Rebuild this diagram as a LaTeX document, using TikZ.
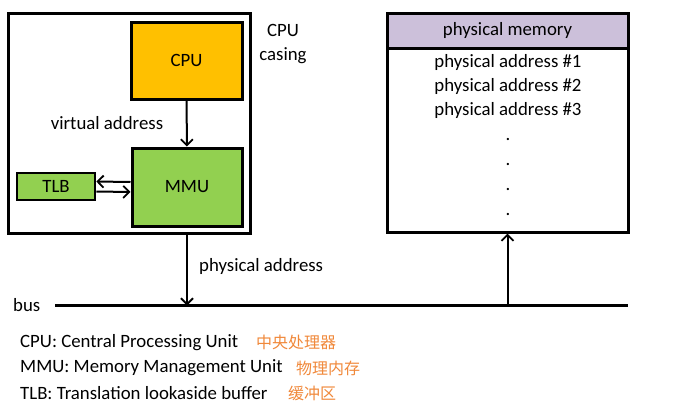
\documentclass[tikz,border=0pt]{standalone}
\usepackage{fontspec}
\setmainfont{Carlito}
\newfontfamily\cjk{Noto Sans CJK SC}
\usetikzlibrary{arrows.meta}
\definecolor{cpuorange}{HTML}{FFC000}
\definecolor{mmugreen}{HTML}{92D050}
\definecolor{memlilac}{HTML}{CCC0DA}
\definecolor{zhorange}{HTML}{F0883A}
\tikzset{
	unitbox/.style={draw, line width=3pt, minimum width=#1, inner sep=0pt},
	txt/.style={font=\fontsize{18.8}{24}\selectfont, inner sep=0pt},
	zh/.style={font=\fontsize{16}{22}\selectfont\cjk, text=zhorange, inner sep=0pt, anchor=west},
	link/.style={line width=2pt, -{Straight Barb[length=6pt,width=12pt,line width=1.8pt]}}
}

\begin{document}
\begin{tikzpicture}[x=1pt, y=-1pt]
			%%%%% START %%%%%
			\useasboundingbox (0, 0) rectangle (689, 416);
			
			% cpu casing
			\node[unitbox=242pt, minimum height=220pt] (casing) at (129, 123) {};
			\node[unitbox=111pt, minimum height=77pt, fill=cpuorange, txt] (cpu) at (186.5, 60.5) {CPU};
			\node[unitbox=110pt, minimum height=78pt, fill=mmugreen, txt] (mmu) at (187, 187) {MMU};
			\node[unitbox=78pt, minimum height=27pt, fill=mmugreen, txt, line width=2.6pt] (tlb) at (56, 186.5) {TLB};
			\node[txt, align=center] (casinglbl) at (283, 44) {CPU\\casing};
			
			\draw[link] (cpu) -- (mmu);
			\node[txt] (virtlbl) at (107, 123) {virtual address};
			\draw[link] ([yshift=5pt]mmu.west) -- ([yshift=5pt]tlb.east);
			\draw[link] ([yshift=-5pt]tlb.east) -- ([yshift=-5pt]mmu.west);
			
			% physical memory
			\node[draw, line width=3pt, fill=memlilac, minimum width=241pt, minimum height=35pt, inner sep=0pt, txt] (memhead) at (507.5, 30.5) {physical memory};
			\node[unitbox=241pt, minimum height=219pt] (mem) at (507.5, 122.5) {};
			\node[txt] (addr1) at (508, 62) {physical address \#1};
			\node[txt] (addr2) at (508, 86) {physical address \#2};
			\node[txt] (addr3) at (508, 110) {physical address \#3};
			\foreach \y [count=\i] in {140, 165, 190, 215}
				\node[txt] (dot\i) at (508, \y) {.};
			
			% bus
			\coordinate (busL) at (55, 305.5);
			\coordinate (busR) at (628, 305.5);
			\draw[line width=2.5pt] (busL) -- (busR);
			\node[txt, anchor=west] (buslbl) at (13, 305) {bus};
			\draw[link] (casing.south -| mmu) -- (busL -| mmu);
			\node[txt, anchor=west] (physlbl) at (199, 266) {physical address};
			\draw[link] (busL -| mem) -- (mem.south);
			
			% legend
			\node[txt, anchor=west] (leg1) at (20, 343) {CPU: Central Processing Unit};
			\node[txt, anchor=west] (leg2) at (20, 368) {MMU: Memory Management Unit};
			\node[txt, anchor=west] (leg3) at (20, 393) {TLB: Translation lookaside buffer};
			\node[zh] (zh1) at (256, 342) {中央处理器};
			\node[zh] (zh2) at (296, 368) {物理内存};
			\node[zh] (zh3) at (288, 393) {缓冲区};
			%%%%% END %%%%%
\end{tikzpicture}
\end{document}
